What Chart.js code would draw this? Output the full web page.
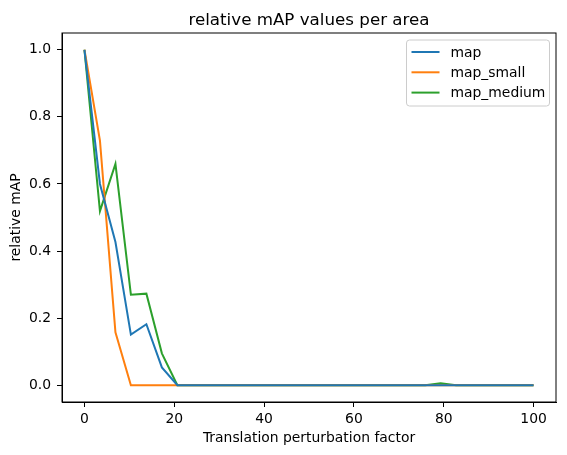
<!DOCTYPE html>
<html>
<head>
<meta charset="utf-8">
<script src="https://cdn.jsdelivr.net/npm/chart.js@4.4.0/dist/chart.umd.min.js"></script>
<style>
    html, body { margin: 0; padding: 0; background: #fff; }
    #wrap { width: 567px; height: 455px; }
</style>
</head>
<body>
<div id="wrap"><canvas id="chart" width="567" height="455"></canvas></div>
<script>
// perturbation factors (30 steps from 0 to 100)
const factors = [0, 3.45, 6.90, 10.34, 13.79, 17.24, 20.69, 24.14, 27.59, 31.03,
    34.48, 37.93, 41.38, 44.83, 48.28, 51.72, 55.17, 58.62, 62.07, 65.52,
    68.97, 72.41, 75.86, 79.31, 82.76, 86.21, 89.66, 93.10, 96.55, 100];

const mapValues = [1.0, 0.60, 0.427, 0.151, 0.182, 0.053, 0, 0, 0, 0,
    0, 0, 0, 0, 0, 0, 0, 0, 0, 0,
    0, 0, 0, 0, 0, 0, 0, 0, 0, 0];
const mapSmall = [1.0, 0.729, 0.158, 0, 0, 0, 0, 0, 0, 0,
    0, 0, 0, 0, 0, 0, 0, 0, 0, 0,
    0, 0, 0, 0, 0, 0, 0, 0, 0, 0];
const mapMedium = [1.0, 0.519, 0.66, 0.27, 0.273, 0.095, 0, 0, 0, 0,
    0, 0, 0, 0, 0, 0, 0, 0, 0, 0,
    0, 0, 0, 0.006, 0, 0, 0, 0, 0, 0];

const xTicks = [0, 20, 40, 60, 80, 100];
const yTicks = [0, 0.2, 0.4, 0.6, 0.8, 1.0];

const FONT = '"DejaVu Sans", sans-serif';
const FS = 13.9;

function toPoints(values) {
    return values.map((v, i) => ({x: factors[i], y: v}));
}

function makeSet(label, values, color) {
    return {
        label: label,
        data: toPoints(values),
        borderColor: color,
        backgroundColor: color,
        borderWidth: 2,
        pointRadius: 0,
        tension: 0,
        fill: false
    };
}

// frame, title and legend drawn like matplotlib
const decorPlugin = {
    id: 'decor',
    afterDraw(chart) {
        const ctx = chart.ctx;
        const ca = chart.chartArea;
        ctx.save();

        ctx.strokeStyle = '#000';
        ctx.lineWidth = 1;
        ctx.strokeRect(ca.left, ca.top, ca.right - ca.left, ca.bottom - ca.top);

        ctx.fillStyle = '#000';
        ctx.font = '16.7px ' + FONT;
        ctx.textAlign = 'center';
        ctx.textBaseline = 'alphabetic';
        ctx.fillText('relative mAP values per area', (ca.left + ca.right) / 2, 25);

        const boxRight = ca.right - 6.5;
        const boxTop = ca.top + 7;
        const boxLeft = boxRight - 143;
        const boxHeight = 66;
        ctx.beginPath();
        ctx.roundRect(boxLeft, boxTop, boxRight - boxLeft, boxHeight, 3);
        ctx.fillStyle = 'rgba(255,255,255,0.8)';
        ctx.fill();
        ctx.lineWidth = 1;
        ctx.strokeStyle = '#cccccc';
        ctx.stroke();

        ctx.font = FS + 'px ' + FONT;
        ctx.textAlign = 'left';
        ctx.textBaseline = 'middle';
        chart.data.datasets.forEach((ds, i) => {
            const y = boxTop + 12 + i * 20.3;
            ctx.strokeStyle = ds.borderColor;
            ctx.lineWidth = 2;
            ctx.beginPath();
            ctx.moveTo(boxLeft + 5, y);
            ctx.lineTo(boxLeft + 33, y);
            ctx.stroke();
            ctx.fillStyle = '#000';
            ctx.fillText(ds.label, boxLeft + 44, y + 1);
        });
        ctx.restore();
    }
};

const ctx = document.getElementById('chart').getContext('2d');
const chart = new Chart(ctx, {
    type: 'line',
    data: {
        datasets: [
            makeSet('map', mapValues, '#1f77b4'),
            makeSet('map_small', mapSmall, '#ff7f0e'),
            makeSet('map_medium', mapMedium, '#2ca02c')
        ]
    },
    options: {
        responsive: false,
        animation: false,
        layout: {padding: {top: 33, right: 11, left: 0, bottom: 0}},
        plugins: {
            legend: {display: false},
            title: {display: false},
            tooltip: {enabled: false}
        },
        scales: {
            x: {
                type: 'linear',
                min: -5,
                max: 105,
                afterBuildTicks: scale => {
                    scale.ticks = xTicks.map(v => ({value: v}));
                },
                afterFit: scale => { scale.height = 53; },
                grid: {
                    drawOnChartArea: false,
                    drawTicks: true,
                    tickLength: 5,
                    tickColor: '#000'
                },
                border: {display: true, color: '#000'},
                ticks: {
                    color: '#000',
                    padding: 4,
                    maxRotation: 0,
                    font: {family: FONT, size: FS},
                    callback: v => String(v)
                },
                title: {
                    display: true,
                    text: 'Translation perturbation factor',
                    color: '#000',
                    font: {family: FONT, size: FS},
                    padding: {top: 0, bottom: 8}
                }
            },
            y: {
                type: 'linear',
                min: -0.05,
                max: 1.05,
                afterBuildTicks: scale => {
                    scale.ticks = yTicks.map(v => ({value: v}));
                },
                afterFit: scale => { scale.width = 62; },
                grid: {
                    drawOnChartArea: false,
                    drawTicks: true,
                    tickLength: 5,
                    tickColor: '#000'
                },
                border: {display: true, color: '#000'},
                ticks: {
                    color: '#000',
                    padding: 6,
                    font: {family: FONT, size: FS},
                    callback: v => v.toFixed(1)
                },
                title: {
                    display: true,
                    text: 'relative mAP',
                    color: '#000',
                    font: {family: FONT, size: FS},
                    padding: {top: 8.5, bottom: 0}
                }
            }
        }
    },
    plugins: [decorPlugin]
});
</script>
</body>
</html>
